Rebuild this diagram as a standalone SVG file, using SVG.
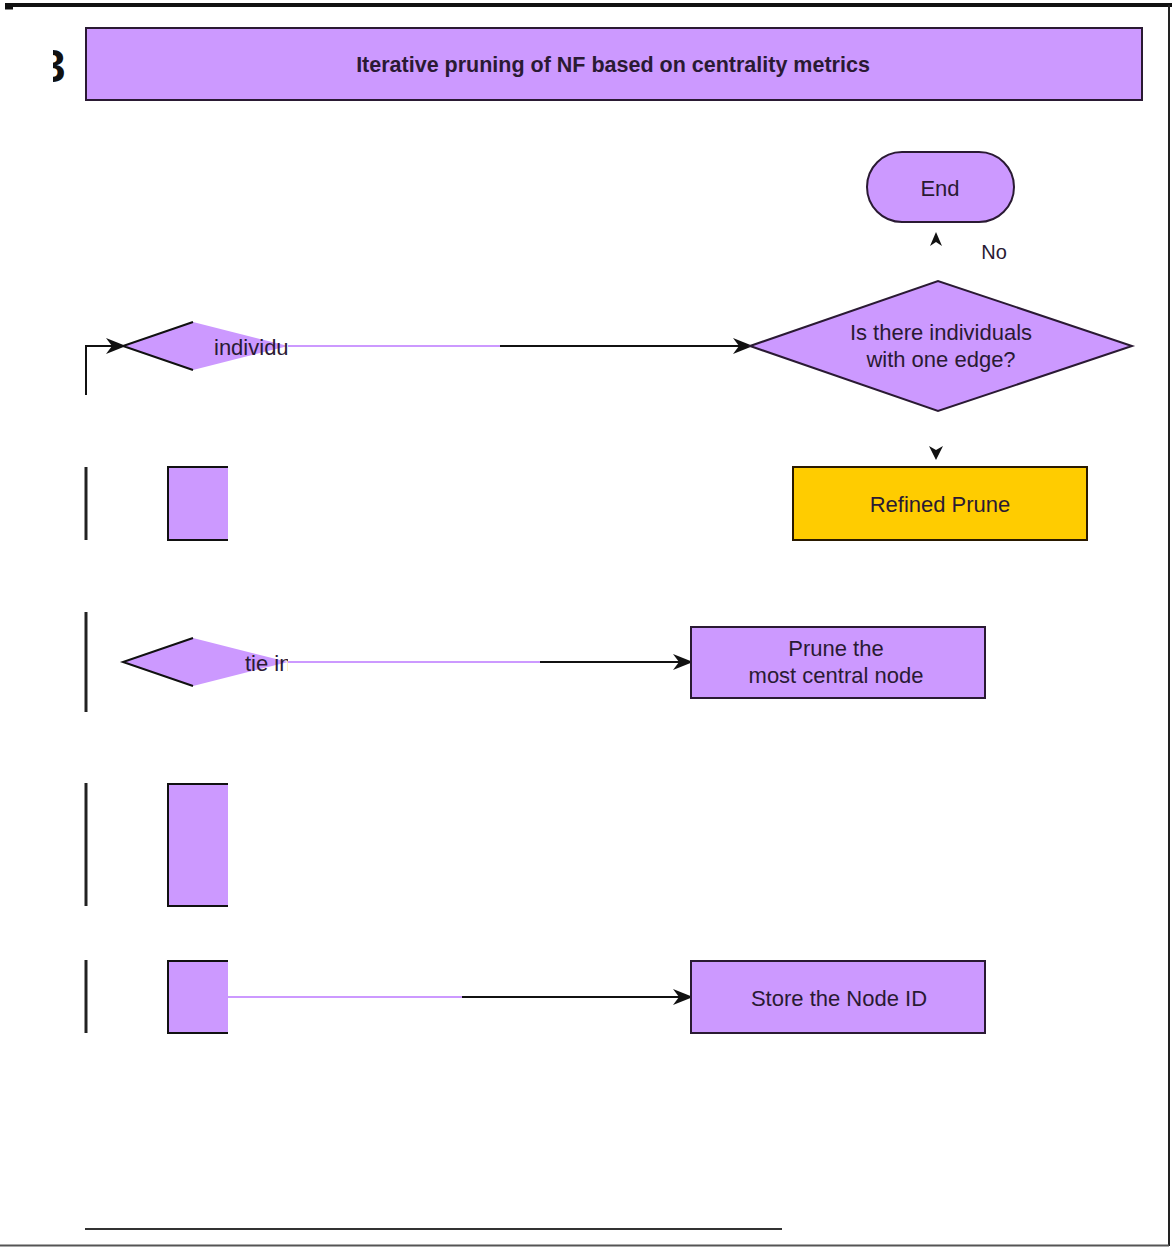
<svg xmlns="http://www.w3.org/2000/svg" width="1172" height="1247" viewBox="0 0 1172 1247">
  <defs>
    <style>
      .box { fill: #CC99FF; stroke: #2a1a33; stroke-width: 2; }
      .gold { fill: #FFCC00; stroke: #2a1a00; stroke-width: 2; }
      .lbl { font-family: "Liberation Sans", Arial, sans-serif; font-size: 22px; fill: #2a1a33; text-anchor: middle; }
      .lft { text-anchor: start; }
      .edge { stroke: #111; stroke-width: 2; fill: none; }
      .pedge { stroke: #CC99FF; stroke-width: 2; fill: none; }
      .bar { stroke: #222; stroke-width: 3; fill: none; }
    </style>
    <marker id="arr" viewBox="0 0 20 16" refX="19" refY="8" markerWidth="20" markerHeight="16" markerUnits="userSpaceOnUse" orient="auto">
      <path d="M0,0 L20,8 L0,16 L6,8 Z" fill="#111"/>
    </marker>
    <clipPath id="clipD1"><rect x="110" y="300" width="178" height="90"/></clipPath>
    <clipPath id="clipD2"><rect x="110" y="620" width="178" height="90"/></clipPath>
    <clipPath id="clipThree"><rect x="53" y="40" width="12" height="50"/></clipPath>
  </defs>

  <rect width="1172" height="1247" fill="#fff"/>

  <!-- page frame -->
  <line x1="5" y1="5" x2="1172" y2="5" stroke="#111" stroke-width="4"/>
  <line x1="5" y1="8" x2="13" y2="8" stroke="#111" stroke-width="3"/>
  <line x1="1169" y1="5" x2="1169" y2="1246" stroke="#222" stroke-width="2"/>
  <line x1="0" y1="1245.5" x2="1169" y2="1245.5" stroke="#555" stroke-width="2"/>
  <line x1="85" y1="1229" x2="782" y2="1229" stroke="#333" stroke-width="2"/>

  <!-- panel letter -->
  <text x="40" y="82" clip-path="url(#clipThree)" font-family="Liberation Sans, Arial, sans-serif" font-size="46" font-weight="bold" fill="#111">3</text>

  <!-- title -->
  <g id="title">
    <rect class="box" x="86" y="28" width="1056" height="72"/>
    <text x="613" y="72" font-family="Liberation Sans, Arial, sans-serif" font-size="21.5" font-weight="bold" fill="#2a1a33" text-anchor="middle">Iterative pruning of NF based on centrality metrics</text>
  </g>

  <!-- connectors -->
  <g id="connectors">
    <polyline class="edge" points="86,395 86,346 125,346" marker-end="url(#arr)"/>
    <line class="pedge" x1="288" y1="346" x2="500" y2="346"/>
    <line class="edge" x1="500" y1="346" x2="752" y2="346" marker-end="url(#arr)"/>
    <line class="pedge" x1="288" y1="662" x2="540" y2="662"/>
    <line class="edge" x1="540" y1="662" x2="692" y2="662" marker-end="url(#arr)"/>
    <line class="pedge" x1="228" y1="997" x2="462" y2="997"/>
    <line class="edge" x1="462" y1="997" x2="692" y2="997" marker-end="url(#arr)"/>
    <path d="M930,246 L936,232 L942,246 L936,242 Z" fill="#111"/>
    <path d="M929,446 L936,460 L943,446 L936,450 Z" fill="#111"/>
    <line class="bar" x1="86" y1="467" x2="86" y2="540"/>
    <line class="bar" x1="86" y1="612" x2="86" y2="712"/>
    <line class="bar" x1="86" y1="783" x2="86" y2="906"/>
    <line class="bar" x1="86" y1="960" x2="86" y2="1033"/>
    <text x="994" y="259" class="lbl" font-size="20" style="font-size:20px">No</text>
  </g>

  <g id="end">
    <rect class="box" x="867" y="152" width="147" height="70" rx="35" ry="35"/>
    <text x="940" y="196" class="lbl">End</text>
  </g>

  <g id="decision-one-edge">
    <polygon class="box" points="750,346 938,281 1132,346 938,411"/>
    <text x="941" y="340" class="lbl">Is there individuals</text>
    <text x="941" y="367" class="lbl">with one edge?</text>
  </g>

  <g id="refined-prune">
    <rect class="gold" x="793" y="467" width="294" height="73"/>
    <text x="940" y="512" class="lbl">Refined Prune</text>
  </g>

  <g id="decision-individuals">
    <g clip-path="url(#clipD1)">
      <polygon fill="#CC99FF" points="123,346 193,322 288,346 193,370"/>
      <polyline class="edge" points="193,322 123,346 193,370" stroke-width="2.5"/>
      <text x="214" y="355" class="lbl lft">individuals</text>
    </g>
  </g>

  <g id="process-a">
    <rect fill="#CC99FF" x="168" y="467" width="60" height="73"/>
    <polyline class="edge" points="228,467 168,467 168,540 228,540"/>
  </g>

  <g id="decision-tie">
    <g clip-path="url(#clipD2)">
      <polygon fill="#CC99FF" points="123,662 193,638 288,662 193,686"/>
      <polyline class="edge" points="193,638 123,662 193,686" stroke-width="2.5"/>
      <text x="245" y="671" class="lbl lft">tie in</text>
    </g>
  </g>

  <g id="prune-central">
    <rect class="box" x="691" y="627" width="294" height="71"/>
    <text x="836" y="656" class="lbl">Prune the</text>
    <text x="836" y="683" class="lbl">most  central node</text>
  </g>

  <g id="process-b">
    <rect fill="#CC99FF" x="168" y="784" width="60" height="122"/>
    <polyline class="edge" points="228,784 168,784 168,906 228,906"/>
  </g>

  <g id="process-c">
    <rect fill="#CC99FF" x="168" y="961" width="60" height="72"/>
    <polyline class="edge" points="228,961 168,961 168,1033 228,1033"/>
  </g>

  <g id="store-node">
    <rect class="box" x="691" y="961" width="294" height="72"/>
    <text x="839" y="1006" class="lbl">Store the Node ID</text>
  </g>
</svg>
